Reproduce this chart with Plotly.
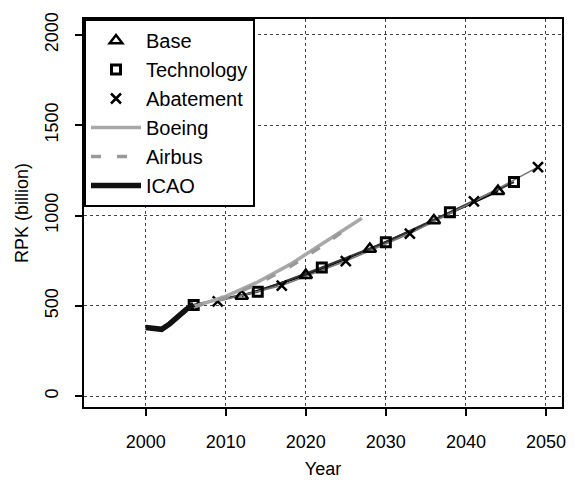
import plotly.graph_objects as go

# Historical traffic (ICAO)
icao_years = [2000, 2001, 2002, 2003, 2004, 2005, 2006]
icao_rpk = [380, 372, 370, 400, 440, 478, 508]

# Industry forecasts
boeing_years = [2006, 2010, 2014, 2018, 2022, 2027]
boeing_rpk = [495, 552, 632, 728, 842, 985]
airbus_years = [2006, 2010, 2014, 2018, 2022, 2026]
airbus_rpk = [495, 545, 622, 716, 830, 955]

# Scenario projections
base_years = [2012, 2020, 2028, 2036, 2044]
base_rpk = [555, 670, 815, 972, 1135]
tech_years = [2006, 2014, 2022, 2030, 2038, 2046]
tech_rpk = [505, 578, 712, 852, 1018, 1185]
abat_years = [2009, 2017, 2025, 2033, 2041, 2049]
abat_rpk = [525, 612, 748, 900, 1078, 1268]

x_ticks = [2000, 2010, 2020, 2030, 2040, 2050]
y_ticks = [0, 500, 1000, 1500, 2000]

FONT = "Liberation Sans, Arial, sans-serif"

fig = go.Figure()

# scenario lines (no legend entry; the legend shows their symbols)
for yrs, vals, col, w in [
    (base_years, base_rpk, "#000000", 2.2),
    (tech_years, tech_rpk, "#333333", 2.2),
    (abat_years, abat_rpk, "#777777", 1.6),
]:
    fig.add_trace(go.Scatter(x=yrs, y=vals, mode="lines",
                             line=dict(color=col, width=w), showlegend=False,
                             hoverinfo="skip"))

fig.add_trace(go.Scatter(x=base_years, y=base_rpk, mode="markers", name="Base",
                         marker=dict(symbol="triangle-up-open", size=11, color="black",
                                     line=dict(width=2.5, color="black"))))
fig.add_trace(go.Scatter(x=tech_years, y=tech_rpk, mode="markers", name="Technology",
                         marker=dict(symbol="square-open", size=9, color="black",
                                     line=dict(width=3, color="black"))))
fig.add_trace(go.Scatter(x=abat_years, y=abat_rpk, mode="markers", name="Abatement",
                         marker=dict(symbol="x-thin-open", size=10, color="black",
                                     line=dict(width=2.5, color="black"))))
fig.add_trace(go.Scatter(x=boeing_years, y=boeing_rpk, mode="lines", name="Boeing",
                         line=dict(color="#a8a8a8", width=3.5)))
fig.add_trace(go.Scatter(x=airbus_years, y=airbus_rpk, mode="lines", name="Airbus",
                         line=dict(color="#999999", width=3.5, dash="10px,16px")))
fig.add_trace(go.Scatter(x=icao_years, y=icao_rpk, mode="lines", name="ICAO",
                         line=dict(color="#111111", width=5.5)))

axis_common = dict(
    showline=True, linecolor="black", linewidth=2, mirror=True,
    ticks="outside", ticklen=7, tickwidth=1.5, tickcolor="black",
    showgrid=True, gridcolor="#444444", gridwidth=1, griddash="dot",
    zeroline=False, tickfont=dict(family=FONT, size=18, color="black"),
    ticklabelstandoff=10,
)

fig.update_xaxes(range=[1992.3, 2052.0], tickvals=x_ticks,
                 title=dict(text="Year", font=dict(family=FONT, size=18, color="black"), standoff=12),
                 **axis_common)
fig.update_yaxes(range=[-60, 2088], tickvals=y_ticks, tickangle=-90,
                 title=dict(text="RPK (billion)", font=dict(family=FONT, size=18, color="black"), standoff=8),
                 **axis_common)

fig.update_layout(
    width=575, height=485,
    margin=dict(l=84, r=9, t=19, b=75),
    paper_bgcolor="white", plot_bgcolor="white",
    font=dict(family=FONT, color="black"),
    legend=dict(x=0, y=1, xanchor="left", yanchor="top",
                bgcolor="white", bordercolor="black", borderwidth=2,
                font=dict(family=FONT, size=20, color="black"),
                itemwidth=50, tracegroupgap=0),
    showlegend=True,
)

fig.write_html("out.html")
